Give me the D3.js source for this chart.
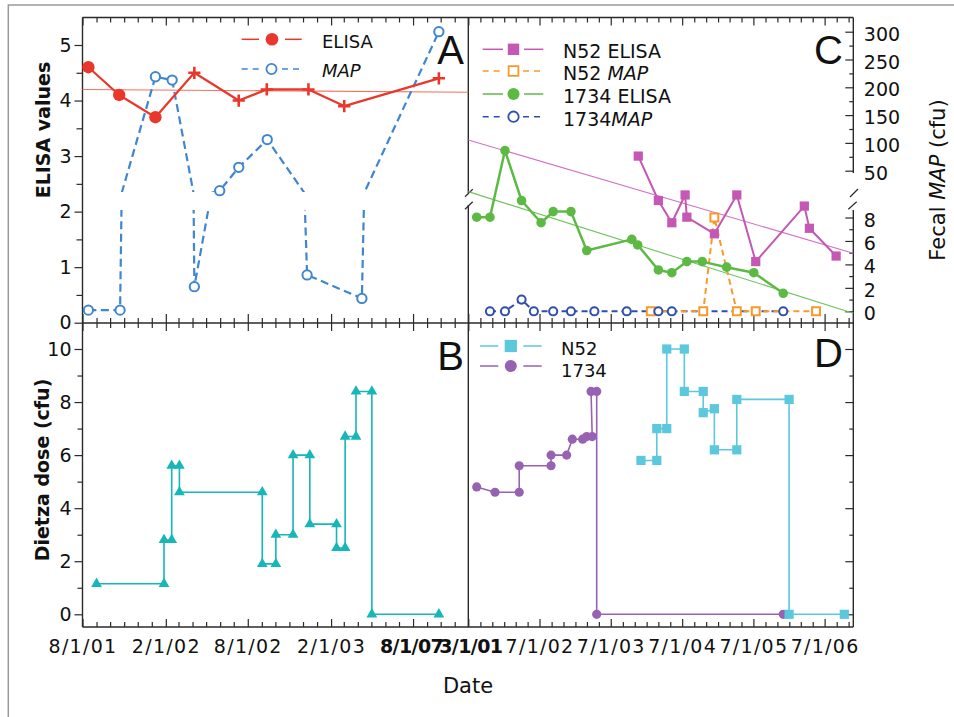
<!DOCTYPE html>
<html>
<head>
<meta charset="utf-8">
<script src="https://cdnjs.cloudflare.com/ajax/libs/d3/7.8.5/d3.min.js"></script>
<style>
  body { margin: 0; background: #fff; }
  svg { display: block; }
  text { font-family: "DejaVu Sans", sans-serif; fill: #111; }
</style>
</head>
<body>
<svg id="chart" width="954" height="717"></svg>
<script>
// ---- panel A: ELISA and fecal MAP (left cow)
var elisaDates = ["2001-08-14","2001-10-21","2002-01-09","2002-04-05","2002-07-12","2002-09-12","2002-12-13","2003-03-02","2003-09-27"];
var elisaValues = [4.6, 4.1, 3.7, 4.5, 4.0, 4.2, 4.2, 3.9, 4.4];
var elisaShapes = ["circle","circle","circle","cross","cross","cross","cross","cross","cross"];
var elisaTrend = [4.2, 4.15];
var mapDates = ["2001-08-14","2001-10-23","2002-01-09","2002-02-15","2002-04-05","2002-05-31","2002-07-12","2002-09-13","2002-12-10","2003-04-10","2003-09-27"];
var mapValues = [0.1, 0.1, 219, 213, 2.1, 14, 56, 106, 3.1, 1.1, 300];

// ---- panel B: Dietza dose
var doseDates = ["2001-09-01","2002-01-28","2002-01-28","2002-02-14","2002-02-14","2002-03-03","2002-03-03","2002-09-02","2002-09-02","2002-10-02","2002-10-02","2002-11-09","2002-11-09","2002-12-16","2002-12-16","2003-02-13","2003-02-13","2003-03-04","2003-03-04","2003-03-28","2003-03-28","2003-05-02","2003-05-02","2003-09-27"];
var doseValues = [1.15,1.15,2.8,2.8,5.6,5.6,4.6,4.6,1.9,1.9,3.0,3.0,6.0,6.0,3.4,3.4,2.5,2.5,6.7,6.7,8.4,8.4,0,0];

// ---- panel C: N52 and 1734
var n52ElisaDates = ["2003-11-19","2004-03-01","2004-05-09","2004-07-16","2004-07-25","2004-12-13","2005-04-07","2005-07-13","2006-03-19","2006-04-14","2006-08-29"];
var n52ElisaValues = [3.0, 2.2, 1.8, 2.3, 1.9, 1.6, 2.3, 1.1, 2.1, 1.7, 1.2];
var n52Trend = [3.29, 1.25];
var n52MapDates = ["2004-01-22","2004-10-17","2004-12-13","2005-04-07","2005-07-13","2006-05-18"];
var n52MapValues = [0, 0, 8, 0, 0, 0];
var e1734Dates = ["2001-08-13","2001-10-20","2002-01-05","2002-03-31","2002-07-09","2002-09-09","2002-12-09","2003-02-28","2003-10-17","2003-11-16","2004-03-01","2004-05-09","2004-07-25","2004-10-12","2005-02-14","2005-07-03","2005-12-01"];
var e1734Values = [1.9, 1.9, 3.1, 2.2, 1.8, 2.0, 2.0, 1.3, 1.5, 1.4, 0.95, 0.9, 1.1, 1.1, 1.0, 0.9, 0.53];
var e1734Trend = [2.36, 0.17];
var m1734Dates = ["2001-10-20","2002-01-05","2002-03-31","2002-06-02","2002-09-09","2002-12-09","2003-04-08","2003-09-21","2004-03-01","2004-05-09","2005-12-01"];
var m1734Values = [0, 0, 1, 0, 0, 0, 0, 0, 0, 0, 0];

// ---- panel D: doses
var n52DoseDates = ["2003-12-03","2004-02-22","2004-02-22","2004-04-13","2004-04-13","2004-07-12","2004-07-12","2004-10-17","2004-10-17","2004-12-13","2004-12-13","2005-04-07","2005-04-07","2005-12-31","2005-12-31","2006-10-10"];
var n52DoseValues = [5.8,5.8,7.0,7.0,10,10,8.4,8.4,7.6,7.75,6.2,6.2,8.1,8.1,0,0];
var d1734DoseDates = ["2001-08-13","2001-11-15","2002-03-19","2002-03-19","2002-08-29","2002-08-29","2002-11-17","2002-12-16","2003-02-07","2003-02-28","2003-03-28","2003-03-22","2003-04-20","2003-04-20","2005-12-01"];
var d1734DoseValues = [4.8,4.6,4.6,5.6,5.6,6.0,6.0,6.6,6.6,6.7,6.7,8.4,8.4,0,0];

// ---- ticks
var leftTickDates = ["2001-08-01","2002-02-01","2002-08-01","2003-02-01","2003-08-01"];
var leftTickLabels = ["8/1/01","2/1/02","8/1/02","2/1/03","8/1/07"];
var rightTickDates = ["2001-07-01","2002-07-01","2003-07-01","2004-07-01","2005-07-01","2006-07-01"];
var rightTickLabels = ["3/1/01","7/1/02","7/1/03","7/1/04","7/1/05","7/1/06"];
var elisaTicks = [0, 1, 2, 3, 4, 5];
var elisaMinor = [0.5, 1.5, 2.5, 3.5, 4.5];
var doseTicks = [0, 2, 4, 6, 8, 10];
var doseMinor = [1, 3, 5, 7, 9];
var mapHighTicks = [50, 100, 150, 200, 250, 300];
var mapHighMinor = [75, 125, 175, 225, 275];
var mapLowTicks = [0, 2, 4, 6, 8];
var mapLowMinor = [1, 3, 5, 7];

var svg = d3.select("#chart");
var parse = d3.timeParse("%Y-%m-%d");
var ink = "#2a2a2a";

// plot box edges
var L = 82.5, M = 468.3, R = 853.3, T = 17.5, H = 323, B = 627;

var xL = d3.scaleTime().domain([parse("2001-08-01"), parse("2003-12-01")]).range([L, M]);
var xR = d3.scaleTime().domain([parse("2001-07-01"), parse("2006-11-25")]).range([M, R]);
var yA = d3.scaleLinear().domain([0, 5]).range([322.7, 45]);
var yD = d3.scaleLinear().domain([0, 10]).range([614.3, 349]);
var mapLo = d3.scaleLinear().domain([0, 8]).range([311.3, 217.5]);
var mapHi = d3.scaleLinear().domain([50, 300]).range([170.7, 31.7]);
var mapY = function(v) { return v > 10 ? mapHi(v) : mapLo(v); };

// outer frame
svg.append("path").attr("d", "M8.3,717V5H954").attr("fill", "none")
  .attr("stroke", "#9a9a9a").attr("stroke-width", 1.5);

var defs = svg.append("defs");
defs.append("clipPath").attr("id", "clipHi").append("rect")
  .attr("x", L).attr("y", T).attr("width", M - L).attr("height", 192 - T);
defs.append("clipPath").attr("id", "clipLo").append("rect")
  .attr("x", L).attr("y", 210).attr("width", M - L).attr("height", H - 210);

function ticks(axis, tx, ty, vals, size) {
  var g = svg.append("g").attr("transform", "translate(" + tx + "," + ty + ")")
    .call(axis.tickValues(vals).tickSizeInner(size).tickSizeOuter(0).tickFormat(""));
  g.select(".domain").remove();
  g.selectAll("line").attr("stroke", ink).attr("stroke-width", 1.2);
  return g;
}

function labels(axis, tx, ty, vals, fmt, pad) {
  var g = svg.append("g").attr("transform", "translate(" + tx + "," + ty + ")")
    .call(axis.tickValues(vals).tickSize(0).tickPadding(pad).tickFormat(fmt));
  g.select(".domain").remove();
  g.selectAll("line").remove();
  g.attr("font-size", 19);
  return g;
}

var lDates = leftTickDates.map(parse), rDates = rightTickDates.map(parse);
var lMinor = d3.timeMonth.range(xL.domain()[0], xL.domain()[1]).filter(function(d) { return d.getMonth() % 6 != 1; });
var rMinor = d3.timeMonth.every(2).range(xR.domain()[0], xR.domain()[1]).filter(function(d) { return d.getMonth() != 6; });

// time ticks on all four horizontal edges
ticks(d3.axisBottom(xL), 0, T, lDates, 8); ticks(d3.axisBottom(xL), 0, T, lMinor, 5);
ticks(d3.axisTop(xL), 0, H, lDates, 9); ticks(d3.axisTop(xL), 0, H, lMinor, 5);
ticks(d3.axisBottom(xL), 0, H, lDates, 8); ticks(d3.axisBottom(xL), 0, H, lMinor, 5);
ticks(d3.axisTop(xL), 0, B, lDates, 8); ticks(d3.axisTop(xL), 0, B, lMinor, 5);
ticks(d3.axisBottom(xR), 0, T, rDates, 8); ticks(d3.axisBottom(xR), 0, T, rMinor, 5);
ticks(d3.axisTop(xR), 0, H, rDates, 9); ticks(d3.axisTop(xR), 0, H, rMinor, 5);
ticks(d3.axisBottom(xR), 0, H, rDates, 8); ticks(d3.axisBottom(xR), 0, H, rMinor, 5);
ticks(d3.axisTop(xR), 0, B, rDates, 8); ticks(d3.axisTop(xR), 0, B, rMinor, 5);

var xl = labels(d3.axisBottom(xL), 0, B, lDates, function(d, i) { return leftTickLabels[i]; }, 13);
var xr = labels(d3.axisBottom(xR), 0, B, rDates, function(d, i) { return rightTickLabels[i]; }, 13);
xl.selectAll("text").attr("letter-spacing", 1.3);
xr.selectAll("text").attr("letter-spacing", 1.3);
xl.selectAll("text").filter(function(d, i) { return i == 4; })
  .attr("font-weight", "bold").attr("letter-spacing", -0.6).attr("dx", -2);
xr.selectAll("text").filter(function(d, i) { return i == 0; })
  .attr("font-weight", "bold").attr("letter-spacing", -0.6).attr("dx", 2);

// y ticks
ticks(d3.axisLeft(yA), L, 0, elisaTicks, 8); ticks(d3.axisLeft(yA), L, 0, elisaMinor, 6);
labels(d3.axisLeft(yA), L, 0, elisaTicks, d3.format("d"), 11);
ticks(d3.axisLeft(yD), L, 0, doseTicks, 8); ticks(d3.axisLeft(yD), L, 0, doseMinor, 5);
labels(d3.axisLeft(yD), L, 0, doseTicks, d3.format("d"), 11);
ticks(d3.axisRight(mapHi), R, 0, mapHighTicks, -8); ticks(d3.axisRight(mapHi), R, 0, mapHighMinor, -4);
labels(d3.axisRight(mapHi), R, 0, mapHighTicks, d3.format("d"), 10.5).selectAll("text").attr("dy", "0.45em");
ticks(d3.axisRight(mapLo), R, 0, mapLowTicks, -8); ticks(d3.axisRight(mapLo), R, 0, mapLowMinor, -4);
labels(d3.axisRight(mapLo), R, 0, mapLowTicks, d3.format("d"), 10.5).selectAll("text").attr("dy", "0.45em");
ticks(d3.axisRight(yD), R, 0, doseTicks, -8); ticks(d3.axisRight(yD), R, 0, doseMinor, -4);

// frame lines (right edge of C is broken)
var frame = [
  [L, T, R, T], [L, H, R, H], [L, B, R, B], [L, T, L, B],
  [M, T, M, 193], [M, 205, M, B],
  [R, T, R, 173], [R, 210, R, B]
];
svg.append("g").selectAll("line").data(frame).join("line")
  .attr("x1", function(d) { return d[0]; }).attr("y1", function(d) { return d[1]; })
  .attr("x2", function(d) { return d[2]; }).attr("y2", function(d) { return d[3]; })
  .attr("stroke", ink).attr("stroke-width", 1.4);
var breaks = [[465, 196.7, 472.7, 189.3], [465, 209.3, 472.7, 201.7], [850, 197, 858, 189], [848.3, 209.3, 856.7, 201.7]];
svg.append("g").selectAll("line").data(breaks).join("line")
  .attr("x1", function(d) { return d[0]; }).attr("y1", function(d) { return d[1]; })
  .attr("x2", function(d) { return d[2]; }).attr("y2", function(d) { return d[3]; })
  .attr("stroke", ink).attr("stroke-width", 1.2);

// ---- helpers for series
var crossType = {
  draw: function(ctx, size) {
    var r = Math.sqrt(size) / 2;
    ctx.moveTo(-r, 0); ctx.lineTo(r, 0); ctx.moveTo(0, -r); ctx.lineTo(0, r);
  }
};
var shapeTypes = { circle: d3.symbolCircle, square: d3.symbolSquare, triangle: d3.symbolTriangle, cross: crossType };

function line(x, y, dates, vals, color, width, dash) {
  return svg.append("path")
    .datum(d3.zip(dates.map(parse), vals))
    .attr("fill", "none").attr("stroke", color).attr("stroke-width", width)
    .attr("stroke-dasharray", dash || null).attr("stroke-linejoin", "round")
    .attr("d", d3.line().x(function(d) { return x(d[0]); }).y(function(d) { return y(d[1]); }));
}

function dots(x, y, dates, vals, shapes, color, size, open) {
  svg.append("g").selectAll("path").data(d3.zip(dates.map(parse), vals)).join("path")
    .attr("transform", function(d) { return "translate(" + x(d[0]) + "," + y(d[1]) + ")"; })
    .each(function(d, i) {
      var s = typeof shapes == "string" ? shapes : shapes[i];
      var el = d3.select(this).attr("d", d3.symbol().type(shapeTypes[s]).size(s == "cross" ? 150 : size)());
      if (s == "cross") el.attr("fill", "none").attr("stroke", color).attr("stroke-width", 2.6);
      else if (open) el.attr("fill", "#fff").attr("stroke", color).attr("stroke-width", 2);
      else el.attr("fill", color);
    });
}

function trend(x, y, vals, color) {
  svg.append("line")
    .attr("x1", x.range()[0]).attr("x2", x.range()[1])
    .attr("y1", y(vals[0])).attr("y2", y(vals[1]))
    .attr("stroke", color).attr("stroke-width", 1.1);
}

// ---- panel A
trend(xL, yA, elisaTrend, "#f2735c");
line(xL, mapHi, mapDates, mapValues, "#3f86cf", 2.2, "8,4.5").attr("clip-path", "url(#clipHi)");
line(xL, mapLo, mapDates, mapValues, "#3f86cf", 2.2, "8,4.5").attr("clip-path", "url(#clipLo)");
dots(xL, mapY, mapDates, mapValues, "circle", "#3f86cf", 68, true);
line(xL, yA, elisaDates, elisaValues, "#e9382b", 2.2);
dots(xL, yA, elisaDates, elisaValues, elisaShapes, "#e9382b", 120, false);

// ---- panel B
line(xL, yD, doseDates, doseValues, "#17b6b8", 1.6);
dots(xL, yD, doseDates, doseValues, "triangle", "#17b6b8", 50, false);

// ---- panel C
trend(xR, yA, n52Trend, "#d36fc4");
trend(xR, yA, e1734Trend, "#6dc35a");
line(xR, mapLo, m1734Dates, m1734Values, "#2f4fae", 2, "6,4");
line(xR, mapLo, n52MapDates, n52MapValues, "#f79a2a", 2, "6,4");
dots(xR, mapLo, n52MapDates, n52MapValues, "square", "#f79a2a", 62, true);
dots(xR, mapLo, m1734Dates, m1734Values, "circle", "#2f4fae", 52, true);
line(xR, yA, e1734Dates, e1734Values, "#5cba44", 2.5);
dots(xR, yA, e1734Dates, e1734Values, "circle", "#5cba44", 72, false);
line(xR, yA, n52ElisaDates, n52ElisaValues, "#c458b4", 2);
dots(xR, yA, n52ElisaDates, n52ElisaValues, "square", "#c458b4", 85, false);

// ---- panel D
line(xR, yD, d1734DoseDates, d1734DoseValues, "#9762b1", 1.6);
dots(xR, yD, d1734DoseDates, d1734DoseValues, "circle", "#9762b1", 66, false);
line(xR, yD, n52DoseDates, n52DoseValues, "#5cc8dd", 1.6);
dots(xR, yD, n52DoseDates, n52DoseValues, "square", "#5cc8dd", 85, false);

// ---- legends
function legendRow(x0, x1, x2, x3, y, color, dash, shape, size, open, tx, ty, parts, fs) {
  var g = svg.append("g");
  [[x0, x1], [x2, x3]].forEach(function(s) {
    g.append("line").attr("x1", s[0]).attr("x2", s[1]).attr("y1", y).attr("y2", y)
      .attr("stroke", color).attr("stroke-width", 1.5).attr("stroke-dasharray", dash || null);
  });
  var sym = g.append("path").attr("transform", "translate(" + (x1 + x2) / 2 + "," + y + ")")
    .attr("d", d3.symbol().type(shapeTypes[shape]).size(size)());
  if (open) sym.attr("fill", "#fff").attr("stroke", color).attr("stroke-width", 1.8);
  else sym.attr("fill", color);
  var t = g.append("text").attr("x", tx).attr("y", ty).attr("font-size", fs);
  parts.forEach(function(p) {
    t.append("tspan").text(p[0]).attr("font-style", p[1] ? "italic" : null);
  });
}
legendRow(241.7, 259, 285, 301.7, 39.3, "#e9382b", null, "circle", 125, false, 322, 47.5, [["ELISA"]], 18);
legendRow(241.7, 261, 282, 301.7, 69, "#3f86cf", "6,5", "circle", 80, true, 322, 77, [["MAP", true]], 18);
legendRow(482.7, 503, 524, 543.3, 49.3, "#c458b4", null, "square", 130, false, 563, 58.3, [["N52 ELISA"]], 19);
legendRow(482.7, 504, 523, 543.3, 71, "#f79a2a", "6,5", "square", 95, true, 563, 80, [["N52 "], ["MAP", true]], 19);
legendRow(482.7, 503, 524, 543.3, 94, "#5cba44", null, "circle", 115, false, 563, 103, [["1734 ELISA"]], 19);
legendRow(482.7, 504, 523, 543.3, 116.7, "#2f4fae", "6,5", "circle", 85, true, 563, 126, [["1734"], ["MAP", true]], 19);
legendRow(480, 498.3, 523.3, 541.7, 346, "#5cc8dd", null, "square", 150, false, 561, 355, [["N52"]], 18);
legendRow(480, 498.3, 523.3, 541.7, 366, "#9762b1", null, "circle", 115, false, 561, 377, [["1734"]], 18);

// ---- panel letters
var letters = [["A", 464, 63.5], ["C", 843, 63.5], ["B", 464, 370], ["D", 843, 367]];
svg.append("g").selectAll("text").data(letters).join("text")
  .attr("x", function(d) { return d[1]; }).attr("y", function(d) { return d[2]; })
  .attr("text-anchor", "end").attr("font-size", 40)
  .style("font-family", "'Liberation Sans', Arial, sans-serif")
  .text(function(d) { return d[0]; });

// ---- axis titles
svg.append("text").attr("transform", "translate(50,130) rotate(-90)")
  .attr("text-anchor", "middle").attr("font-size", 19).attr("font-weight", "bold").text("ELISA values");
svg.append("text").attr("transform", "translate(49,470) rotate(-90)")
  .attr("text-anchor", "middle").attr("font-size", 19).attr("font-weight", "bold").text("Dietza dose (cfu)");
var fecal = svg.append("text").attr("transform", "translate(945,180) rotate(-90)")
  .attr("text-anchor", "middle").attr("font-size", 21);
fecal.append("tspan").text("Fecal ");
fecal.append("tspan").attr("font-style", "italic").text("MAP");
fecal.append("tspan").text(" (cfu)");
svg.append("text").attr("x", 468).attr("y", 693).attr("text-anchor", "middle")
  .attr("font-size", 21).text("Date");
</script>
</body>
</html>
